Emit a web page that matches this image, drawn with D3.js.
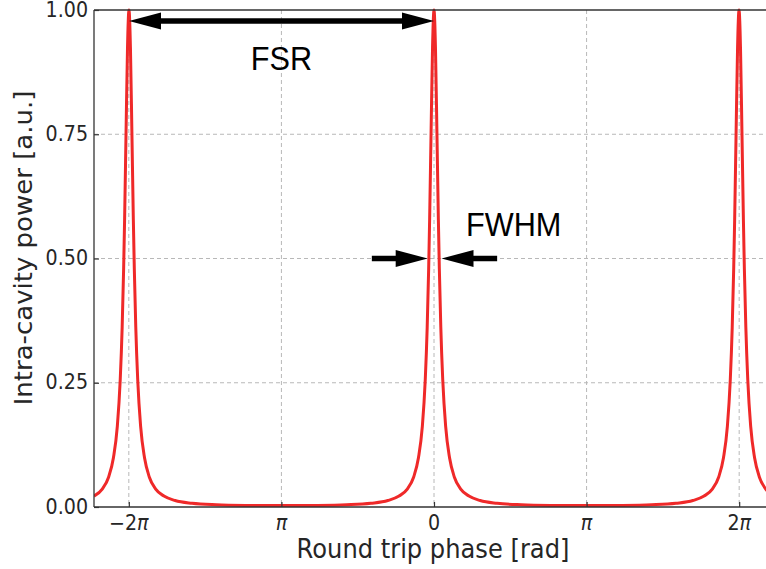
<!DOCTYPE html>
<html>
<head>
<meta charset="utf-8">
<script src="https://cdn.jsdelivr.net/npm/d3@7"></script>
<style>
  html, body { margin: 0; padding: 0; background: #fff; overflow: hidden; }
  svg { display: block; }
</style>
</head>
<body>
<svg id="chart" width="766" height="569"></svg>
<script>
// Intra-cavity power of a Fabry-Perot resonator versus round trip phase
const phase = [
  -7.00, -6.83, -6.70, -6.60, -6.52, -6.46, -6.42, -6.39, -6.37, -6.34, -6.31,
  -6.28,
  -6.25, -6.22, -6.19, -6.17, -6.14, -6.10, -6.04, -5.96, -5.86, -5.73, -5.56,
  -5.33, -4.98, -4.48, -3.88, -3.14, -2.40, -1.80, -1.30, -0.95, -0.72, -0.55,
  -0.42, -0.32, -0.24, -0.18, -0.14, -0.11, -0.09, -0.06, -0.03,
  0.00,
  0.03, 0.06, 0.09, 0.11, 0.14, 0.18, 0.24, 0.32, 0.42, 0.55, 0.72, 0.95, 1.30,
  1.80, 2.40, 3.14, 3.88, 4.48, 4.98, 5.33, 5.56, 5.73, 5.86, 5.96, 6.04, 6.10,
  6.14, 6.17, 6.19, 6.22, 6.25,
  6.28,
  6.31, 6.34, 6.37, 6.39, 6.42, 6.46, 6.52, 6.60, 6.70, 6.83, 7.00
];
const power = [
  0.022, 0.036, 0.060, 0.099, 0.162, 0.256, 0.362, 0.479, 0.578, 0.755, 0.925,
  1.000,
  0.925, 0.755, 0.578, 0.479, 0.362, 0.256, 0.162, 0.099, 0.060, 0.036, 0.022,
  0.013, 0.0075, 0.0045, 0.0032, 0.0028, 0.0032, 0.0045, 0.0075, 0.013, 0.022, 0.036,
  0.060, 0.099, 0.162, 0.256, 0.362, 0.479, 0.578, 0.755, 0.925,
  1.000,
  0.925, 0.755, 0.578, 0.479, 0.362, 0.256, 0.162, 0.099, 0.060, 0.036, 0.022, 0.013, 0.0075,
  0.0045, 0.0032, 0.0028, 0.0032, 0.0045, 0.0075, 0.013, 0.022, 0.036, 0.060, 0.099, 0.162, 0.256,
  0.362, 0.479, 0.578, 0.755, 0.925,
  1.000,
  0.925, 0.755, 0.578, 0.479, 0.362, 0.256, 0.162, 0.099, 0.060, 0.036, 0.022
];

const xTicks = [-2 * Math.PI, -Math.PI, 0, Math.PI, 2 * Math.PI];
const xTickLabels = [["\u2212", "2", "\u03c0"], ["", "", "\u03c0"], ["", "0", ""], ["", "", "\u03c0"], ["", "2", "\u03c0"]];
const yTicks = [0, 0.25, 0.5, 0.75, 1.0];
const yTickLabels = ["0.00", "0.25", "0.50", "0.75", "1.00"];

// Annotations: free spectral range between two resonances, linewidth at half maximum
const fsrArrow = { x1: -6.28, x2: 0.0, y: 0.978 };
const fsrLabel = { x: -Math.PI, y: 0.903, text: "FSR" };
const fwhmArrows = [ { from: -1.28, to: -0.13, y: 0.5 }, { from: 1.30, to: 0.155, y: 0.5 } ];
const fwhmLabel = { x: 1.64, y: 0.569, text: "FWHM" };

const xLabel = "Round trip phase [rad]";
const yLabel = "Intra-cavity power [a.u.]";

const svg = d3.select("#chart");
const plot = { left: 94, right: 774, top: 10, bottom: 507 };
const squeeze = 0.93;
const x = d3.scaleLinear().domain([-7, 7]).range([plot.left, plot.right]);
const y = d3.scaleLinear().domain([0, 1]).range([plot.bottom, plot.top]);

const tickFont = "'DejaVu Sans', sans-serif";
const gridColor = "#b8b8b8";
const spineColor = "#333333";

svg.append("defs").append("clipPath").attr("id", "plot-area")
  .append("rect")
  .attr("x", plot.left).attr("y", plot.top - 2)
  .attr("width", plot.right - plot.left).attr("height", plot.bottom - plot.top + 2);

// grid
const grid = svg.append("g");
grid.selectAll("line.gx").data(xTicks).join("line")
  .attr("x1", d => x(d)).attr("x2", d => x(d))
  .attr("y1", plot.top).attr("y2", plot.bottom)
  .attr("stroke", gridColor).attr("stroke-width", 1).attr("stroke-dasharray", "4,3");
grid.selectAll("line.gy").data(yTicks.slice(1, -1)).join("line")
  .attr("x1", plot.left).attr("x2", plot.right)
  .attr("y1", d => y(d)).attr("y2", d => y(d))
  .attr("stroke", gridColor).attr("stroke-width", 1).attr("stroke-dasharray", "4,3");

// resonance curve
const line = d3.line().x((d, i) => x(phase[i])).y(d => y(d)).curve(d3.curveMonotoneX);
svg.append("path")
  .datum(power)
  .attr("clip-path", "url(#plot-area)")
  .attr("d", line)
  .attr("fill", "none")
  .attr("stroke", "#ef2929")
  .attr("stroke-width", 3)
  .attr("stroke-linejoin", "round");

// axes with inward ticks
const xAxis = d3.axisBottom(x).tickValues(xTicks).tickSize(-5).tickFormat("");
const gx = svg.append("g").attr("transform", `translate(0,${plot.bottom})`).call(xAxis);
const yAxis = d3.axisLeft(y).tickValues(yTicks).tickSize(-5).tickFormat("");
const gy = svg.append("g").attr("transform", `translate(${plot.left},0)`).call(yAxis);
[gx, gy].forEach(g => {
  g.select(".domain").remove();
  g.selectAll(".tick line").attr("stroke", spineColor).attr("stroke-width", 1.2);
});

// spines
const spines = svg.append("g").attr("stroke", spineColor).attr("stroke-width", 1.3).attr("fill", "none");
spines.append("line").attr("x1", plot.left).attr("x2", plot.right).attr("y1", plot.bottom).attr("y2", plot.bottom);
spines.append("line").attr("x1", plot.left).attr("x2", plot.right).attr("y1", plot.top).attr("y2", plot.top);
spines.append("line").attr("x1", plot.left).attr("x2", plot.left).attr("y1", plot.top).attr("y2", plot.bottom);
spines.append("line").attr("x1", plot.right).attr("x2", plot.right).attr("y1", plot.top).attr("y2", plot.bottom);

// tick labels
const yl = svg.append("g");
yTicks.forEach((t, i) => {
  yl.append("text")
    .attr("transform", `translate(${plot.left - 6},${y(t)}) scale(${squeeze},1)`)
    .attr("text-anchor", "end").attr("dominant-baseline", "central")
    .attr("font-family", tickFont).attr("font-size", 20.5).attr("fill", "#262626")
    .text(yTickLabels[i]);
});
const xl = svg.append("g");
xTicks.forEach((t, i) => {
  const parts = xTickLabels[i];
  const txt = xl.append("text")
    .attr("transform", `translate(${x(t)},${plot.bottom + 23}) scale(${squeeze},1)`)
    .attr("text-anchor", "middle")
    .attr("font-family", tickFont).attr("font-size", 20.5).attr("fill", "#262626");
  txt.append("tspan").text(parts[0] + parts[1]);
  if (parts[2]) txt.append("tspan").attr("font-style", "italic").text(parts[2]);
});

// axis labels
svg.append("text")
  .attr("transform", `translate(${(plot.left + plot.right) / 2 - 1},${plot.bottom + 51}) scale(${squeeze},1)`)
  .attr("text-anchor", "middle")
  .attr("font-family", tickFont).attr("font-size", 26).attr("fill", "#262626")
  .text(xLabel);
svg.append("text")
  .attr("transform", `translate(32,${248}) scale(${squeeze},1) rotate(-90)`)
  .attr("text-anchor", "middle")
  .attr("font-family", tickFont).attr("font-size", 26).attr("fill", "#262626")
  .text(yLabel);

// arrows
const headLen = 32, headHalf = 8.5, shaft = 5.5;
function arrowHead(g, tipX, tipY, dir) {
  const bx = tipX - dir * headLen;
  g.append("path")
    .attr("d", `M${tipX},${tipY} L${bx},${tipY - headHalf} L${bx},${tipY + headHalf} Z`)
    .attr("fill", "#000");
}
const ann = svg.append("g");
{
  const x1 = x(fsrArrow.x1), x2 = x(fsrArrow.x2), yy = y(fsrArrow.y);
  ann.append("line").attr("x1", x1 + headLen - 2).attr("x2", x2 - headLen + 2)
    .attr("y1", yy).attr("y2", yy).attr("stroke", "#000").attr("stroke-width", shaft);
  arrowHead(ann, x1, yy, -1);
  arrowHead(ann, x2, yy, 1);
}
fwhmArrows.forEach(a => {
  const xf = x(a.from), xt = x(a.to), yy = y(a.y);
  const dir = xt > xf ? 1 : -1;
  ann.append("line").attr("x1", xf).attr("x2", xt - dir * (headLen - 2))
    .attr("y1", yy).attr("y2", yy).attr("stroke", "#000").attr("stroke-width", shaft);
  arrowHead(ann, xt, yy, dir);
});

[fsrLabel, fwhmLabel].forEach(l => {
  ann.append("text")
    .attr("transform", `translate(${x(l.x)},${y(l.y)}) scale(${squeeze},1)`)
    .attr("text-anchor", "middle").attr("dominant-baseline", "central")
    .attr("font-family", "'Liberation Sans', Arial, sans-serif").attr("font-size", 33)
    .attr("fill", "#000")
    .text(l.text);
});
</script>
</body>
</html>
